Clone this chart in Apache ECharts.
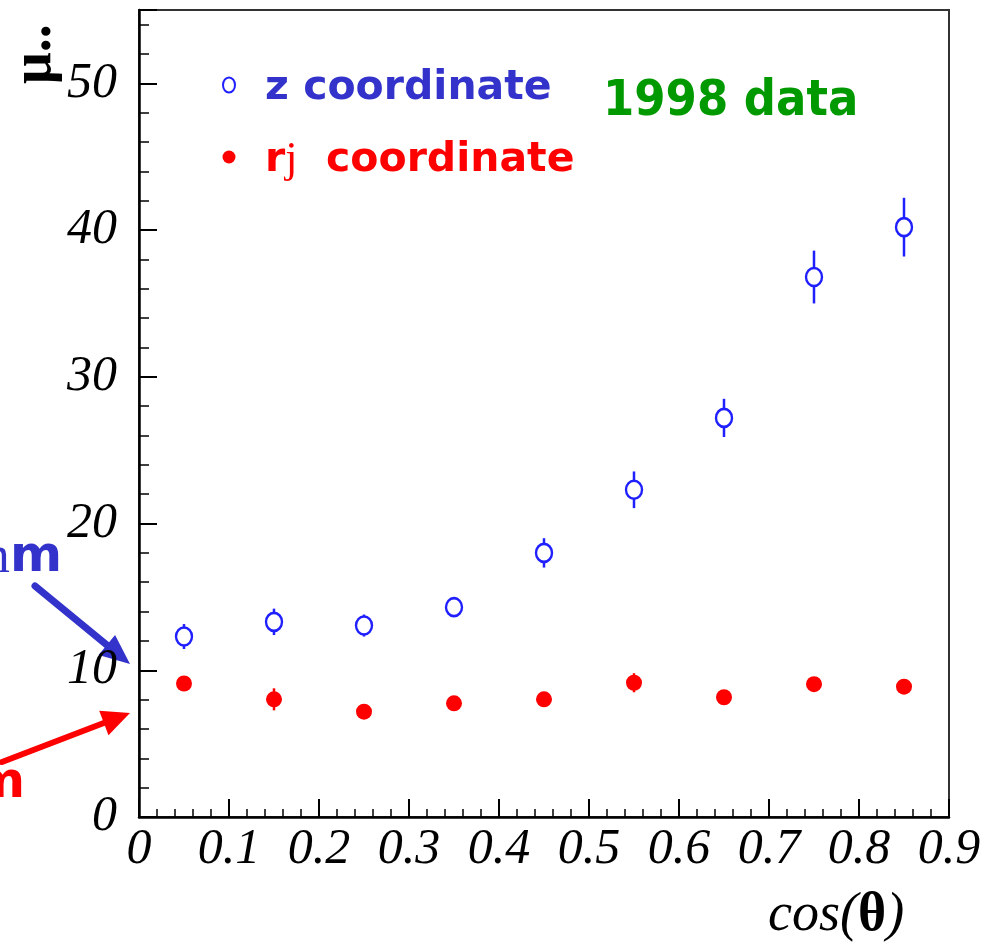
<!DOCTYPE html>
<html><head><meta charset="utf-8">
<script src="https://cdn.jsdelivr.net/npm/echarts@6/dist/echarts.min.js"></script>
<style>html,body{margin:0;padding:0;background:#fff}#c{width:990px;height:946px}</style>
</head><body><div id="c"></div>
<script>
const cosTheta = [0.05, 0.15, 0.25, 0.35, 0.45, 0.55, 0.65, 0.75, 0.85];
const zRes = [12.3, 13.3, 13.05, 14.3, 18.0, 22.3, 27.2, 36.8, 40.2];
const zErr = [0.85, 0.9, 0.75, 0.65, 1.0, 1.25, 1.3, 1.8, 2.0];
const rRes = [9.1, 8.02, 7.18, 7.75, 8.02, 9.15, 8.16, 9.05, 8.88];
const rErr = [0.5, 0.75, 0.4, 0.4, 0.4, 0.65, 0.4, 0.4, 0.4];
const xTickLabels = ['0', '0.1', '0.2', '0.3', '0.4', '0.5', '0.6', '0.7', '0.8', '0.9'];
const yTickLabels = ['0', '10', '20', '30', '40', '50'];

const BLUE = '#1f1fff';
const RED = '#ff0000';
const SERIF = '"Liberation Serif","Times New Roman",serif';
const SANS = '"DejaVu Sans",Verdana,sans-serif';

function errBar(color, values, errs) {
  return {
    type: 'custom',
    z: 1,
    data: cosTheta.map((x, i) => [x, values[i] - errs[i], values[i] + errs[i]]),
    encode: { x: 0, y: [1, 2] },
    renderItem: function (params, api) {
      const a = api.coord([api.value(0), api.value(1)]);
      const b = api.coord([api.value(0), api.value(2)]);
      return { type: 'line', shape: { x1: a[0], y1: a[1], x2: b[0], y2: b[1] },
               style: { stroke: color, lineWidth: 2.5 } };
    },
    silent: true
  };
}

function arrow(x0, y0, tx, ty, headLen, headHalf, width, color) {
  const dx = tx - x0, dy = ty - y0, L = Math.hypot(dx, dy);
  const ux = dx / L, uy = dy / L, px = -uy, py = ux;
  const bx = tx - headLen * ux, by = ty - headLen * uy;
  return [
    { type: 'line', shape: { x1: x0, y1: y0, x2: bx + ux * 2, y2: by + uy * 2 },
      style: { stroke: color, lineWidth: width, lineCap: 'round' } },
    { type: 'polygon', shape: { points: [[tx, ty], [bx + headHalf * px, by + headHalf * py], [bx - headHalf * px, by - headHalf * py]] },
      style: { fill: color } }
  ];
}

const chart = echarts.init(document.getElementById('c'), null, { renderer: 'canvas' });
const axisLabelFont = { fontFamily: SERIF, fontStyle: 'italic', fontSize: 50, color: '#000' };

chart.setOption({
  animation: false,
  backgroundColor: '#fff',
  grid: { left: 139, right: 41, top: 10, bottom: 129, show: true, borderColor: '#333', borderWidth: 2, backgroundColor: 'transparent' },
  xAxis: {
    type: 'value', min: 0, max: 0.9, interval: 0.1,
    axisLine: { lineStyle: { color: '#000', width: 2.5 } },
    axisTick: { inside: true, length: 18, lineStyle: { color: '#000', width: 2 } },
    minorTick: { show: true, splitNumber: 5, length: 8, lineStyle: { color: '#000', width: 1.5 } },
    splitLine: { show: false },
    axisLabel: Object.assign({ margin: 8, formatter: v => { const i = Math.round(v * 10); return xTickLabels[i] ?? ''; } }, axisLabelFont)
  },
  yAxis: {
    type: 'value', min: 0, max: 55, interval: 10,
    axisLine: { lineStyle: { color: '#000', width: 2.5 } },
    axisTick: { inside: true, length: 18, lineStyle: { color: '#000', width: 2 } },
    minorTick: { show: true, splitNumber: 5, length: 10, lineStyle: { color: '#000', width: 1.5 } },
    splitLine: { show: false },
    axisLabel: Object.assign({ margin: 22, showMaxLabel: false, formatter: v => { const i = Math.round(v / 10); return (Math.abs(v - i * 10) < 1e-6 && yTickLabels[i] !== undefined) ? yTickLabels[i] : ''; } }, axisLabelFont)
  },
  series: [
    errBar(BLUE, zRes, zErr),
    errBar(RED, rRes, rErr),
    {
      type: 'scatter', name: 'z coordinate', z: 3,
      data: cosTheta.map((x, i) => [x, zRes[i]]),
      symbol: 'circle', symbolSize: [16, 18],
      itemStyle: { color: '#fff', borderColor: BLUE, borderWidth: 2.5, opacity: 1 }
    },
    {
      type: 'scatter', name: 'rj coordinate', z: 3,
      data: cosTheta.map((x, i) => [x, rRes[i]]),
      symbol: 'circle', symbolSize: 16,
      itemStyle: { color: RED, opacity: 1 }
    }
  ],
  graphic: [
    // legend
    { type: 'ellipse', shape: { cx: 229, cy: 85, rx: 6, ry: 7.5 }, style: { fill: '#fff', stroke: BLUE, lineWidth: 2 } },
    { type: 'circle', shape: { cx: 229, cy: 157, r: 6.5 }, style: { fill: RED } },
    { type: 'text', x: 265, y: 88, style: { text: 'z coordinate', font: 'bold 41px ' + SANS, fill: '#3333cc', align: 'left', verticalAlign: 'middle' } },
    { type: 'text', x: 265, y: 160, style: {
        text: '{a|r}{b|j}{a|  coordinate}',
        align: 'left', verticalAlign: 'middle',
        rich: {
          a: { font: 'bold 41px ' + SANS, fill: RED, color: RED },
          b: { font: '44px ' + SERIF, fill: RED, color: RED }
        } } },
    { type: 'text', x: 603, y: 102, style: { text: '1998 data', font: 'bold 50px "DejaVu Sans Condensed","DejaVu Sans",sans-serif', fill: '#009900', align: 'left', verticalAlign: 'middle' } },
    // axis titles
    { type: 'text', x: 768, y: 916, style: {
        text: '{i|cos}{p|(}{t|θ}{p|)}', align: 'left', verticalAlign: 'middle',
        rich: {
          i: { font: 'italic 54px ' + SERIF, fill: '#000', color: '#000' },
          p: { font: 'italic 54px ' + SERIF, fill: '#000', color: '#000' },
          t: { font: 'bold 54px ' + SERIF, fill: '#000', color: '#000' }
        } } },
    { type: 'text', x: 36, y: 84, rotation: Math.PI / 2, style: { text: 'μ..', font: 'bold 56px ' + SERIF, fill: '#000', align: 'left', verticalAlign: 'middle' } },
    // left annotations
    { type: 'text', x: 62, y: 558, style: {
        text: '{a|m}{b|m}', align: 'right', verticalAlign: 'middle',
        rich: {
          a: { font: '52px ' + SERIF, fill: '#3333cc', color: '#3333cc' },
          b: { font: 'bold 50px ' + SANS, fill: '#3333cc', color: '#3333cc' }
        } } },
    { type: 'text', x: 25, y: 784, style: { text: 'm', font: 'bold 50px ' + SANS, fill: RED, align: 'right', verticalAlign: 'middle' } },
    ...arrow(35, 586, 130, 664, 30, 13, 7, '#3333cc'),
    ...arrow(2, 762, 130, 713, 28, 13, 6, RED)
  ]
});
</script>
</body></html>
